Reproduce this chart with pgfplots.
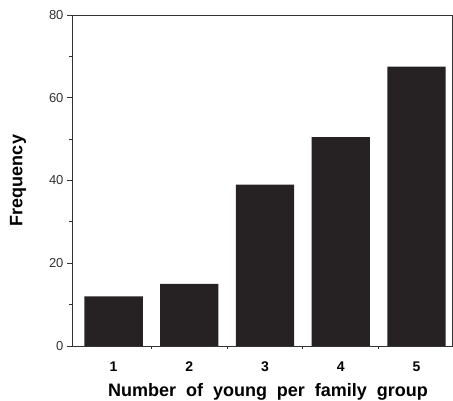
\documentclass[border=0pt]{standalone}
\usepackage{fontspec}
\setmainfont{Liberation Sans}
\usepackage{pgfplots}
\pgfplotsset{compat=1.18}
\definecolor{barc}{HTML}{262223}
\definecolor{axc}{HTML}{333333}
\begin{document}
\begin{tikzpicture}
\begin{axis}[name=ax, scale only axis, width=380pt, height=331pt,
  xmin=0.45, xmax=5.47, ymin=0, ymax=80,
  axis line style={axc, line width=0.9pt},
  xtick={1,2,3,4,5}, minor xtick={1.5,2.5,3.5,4.5},
  ytick={0,20,40,60,80}, minor ytick={10,30,50,70},
  xtick pos=lower, ytick pos=left, tick align=outside,
  major x tick style={draw=none}, minor x tick style={axc, line width=0.9pt},
  major y tick style={axc, line width=0.9pt}, minor y tick style={axc, line width=0.9pt},
  major tick length=5pt, minor tick length=3pt,
  /pgf/number format/assume math mode=true,
  x tick label style={font=\fontsize{14}{16}\selectfont\bfseries, yshift=-7pt},
  y tick label style={font=\fontsize{13}{15}\selectfont, text=axc},
  xlabel={\fontsize{18}{21}\selectfont\bfseries\spaceskip=0.55em Number of young per family group},
  ylabel={\fontsize{18}{21}\selectfont\bfseries Frequency},
  xlabel style={yshift=-5pt, xshift=6pt},
  ylabel style={yshift=16pt},
  every axis plot/.append style={draw=none, fill=barc},
]
\addplot[ybar, bar width=0.77] coordinates {(1,12) (2,15) (3,39) (4,50.5) (5,67.5)};
\end{axis}
\pgfresetboundingbox
\path ([shift={(-72pt,-55pt)}]ax.south west) rectangle ([shift={(1pt,15pt)}]ax.north east);
\end{tikzpicture}
\end{document}
